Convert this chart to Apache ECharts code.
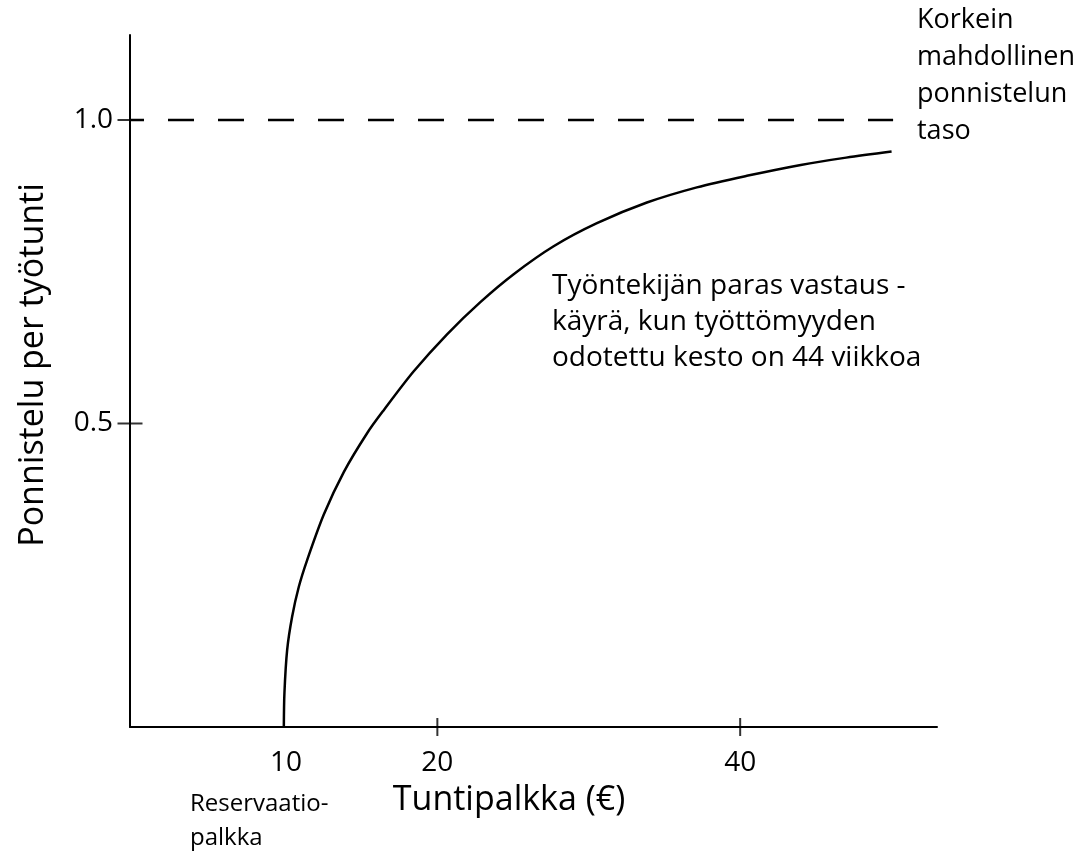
<!DOCTYPE html>
<html>
<head>
<meta charset="utf-8">
<script src="https://cdn.jsdelivr.net/npm/echarts@6/dist/echarts.min.js"></script>
<style>
  html, body { margin: 0; padding: 0; background: #fff; }
  #main { width: 1077px; height: 852px; }
</style>
</head>
<body>
<div id="main"></div>
<script>
// best response curve: wage (€/h) -> effort per hour
const wage = [9.86, 9.9, 10.08, 10.41, 10.85, 11.4, 12.5, 13.82, 15.36, 16.46, 18.44, 20.64, 22.84, 25.04, 27.68, 30.54, 33.84, 37.14, 40.44, 44.0, 47.0, 50.0]
const effort = [0, 0.056, 0.127, 0.182, 0.231, 0.275, 0.35, 0.42, 0.484, 0.522, 0.586, 0.647, 0.7, 0.746, 0.792, 0.83, 0.864, 0.889, 0.908, 0.926, 0.938, 0.948]

const maxEffort = 1.0
const maxEffortEnd = 50.1
const xTicks = [10, 20, 40]
const xTickMarks = [20, 40]
const yTicks = [0.5, 1.0]

const xMin = -0.3
const xMax = 53
const yMax = 1.14
const font = '"Open Sans", "DejaVu Sans", sans-serif'

const curve = wage.map((w, i) => [w, effort[i]])

const chart = echarts.init(document.getElementById('main'))

let option = {
  animation: false,
  backgroundColor: '#fff',
  grid: { left: 130, right: 140, top: 35, bottom: 125 },
  xAxis: {
    type: 'value',
    min: xMin,
    max: xMax,
    splitLine: { show: false },
    axisLine: { lineStyle: { color: '#000', width: 2 } },
    axisTick: { show: false },
    axisLabel: {
      customValues: xTicks,
      color: '#000',
      fontSize: 28,
      fontFamily: font,
      margin: 22,
    },
  },
  yAxis: {
    type: 'value',
    min: 0,
    max: yMax,
    splitLine: { show: false },
    axisLine: { show: true, onZero: false, lineStyle: { color: '#000', width: 2 } },
    axisTick: { show: false },
    axisLabel: {
      customValues: yTicks,
      formatter: (v) => v.toFixed(1),
      color: '#000',
      fontSize: 28,
      fontFamily: font,
      margin: 17,
    },
  },
  series: [
    {
      name: 'max',
      type: 'line',
      data: [[xMin, maxEffort], [maxEffortEnd, maxEffort]],
      symbol: 'none',
      lineStyle: { color: '#000', width: 2.5, type: [26, 24], dashOffset: 12 },
      silent: true,
    },
    {
      name: 'paras vastaus',
      type: 'line',
      data: curve,
      smooth: 0.3,
      symbol: 'none',
      lineStyle: { color: '#000', width: 2.5 },
      silent: true,
    },
    {
      name: 'xticks',
      type: 'scatter',
      data: xTickMarks.map((v) => [v, 0]),
      symbol: 'rect',
      symbolSize: [2, 18],
      itemStyle: { color: '#000' },
      clip: false,
      silent: true,
    },
    {
      name: 'yticks',
      type: 'scatter',
      data: yTicks.map((v) => [xMin, v]),
      symbol: 'rect',
      symbolSize: [25, 2],
      itemStyle: { color: '#000' },
      clip: false,
      silent: true,
    },
  ],
  graphic: [
    {
      type: 'text',
      x: 33,
      y: 365,
      rotation: Math.PI / 2,
      style: {
        text: 'Ponnistelu per työtunti',
        font: '34px ' + font,
        fill: '#000',
        align: 'center',
        verticalAlign: 'middle',
      },
    },
    {
      type: 'text',
      x: 509,
      y: 800,
      style: {
        text: 'Tuntipalkka (€)',
        font: '34px ' + font,
        fill: '#000',
        align: 'center',
        verticalAlign: 'middle',
      },
    },
    {
      type: 'text',
      x: 190,
      y: 787,
      style: {
        text: 'Reservaatio-\npalkka',
        font: '24px ' + font,
        lineHeight: 34,
        fill: '#000',
        align: 'left',
        verticalAlign: 'top',
      },
    },
    {
      type: 'text',
      x: 917,
      y: 2,
      style: {
        text: 'Korkein\nmahdollinen\nponnistelun\ntaso',
        font: '27px ' + font,
        lineHeight: 37,
        fill: '#000',
        align: 'left',
        verticalAlign: 'top',
      },
    },
    {
      type: 'text',
      x: 552,
      y: 268,
      style: {
        text: 'Työntekijän paras vastaus -\nkäyrä, kun työttömyyden\nodotettu kesto on 44 viikkoa',
        font: '28px ' + font,
        lineHeight: 36,
        fill: '#000',
        align: 'left',
        verticalAlign: 'top',
      },
    },
  ],
}

chart.setOption(option)
</script>
</body>
</html>
